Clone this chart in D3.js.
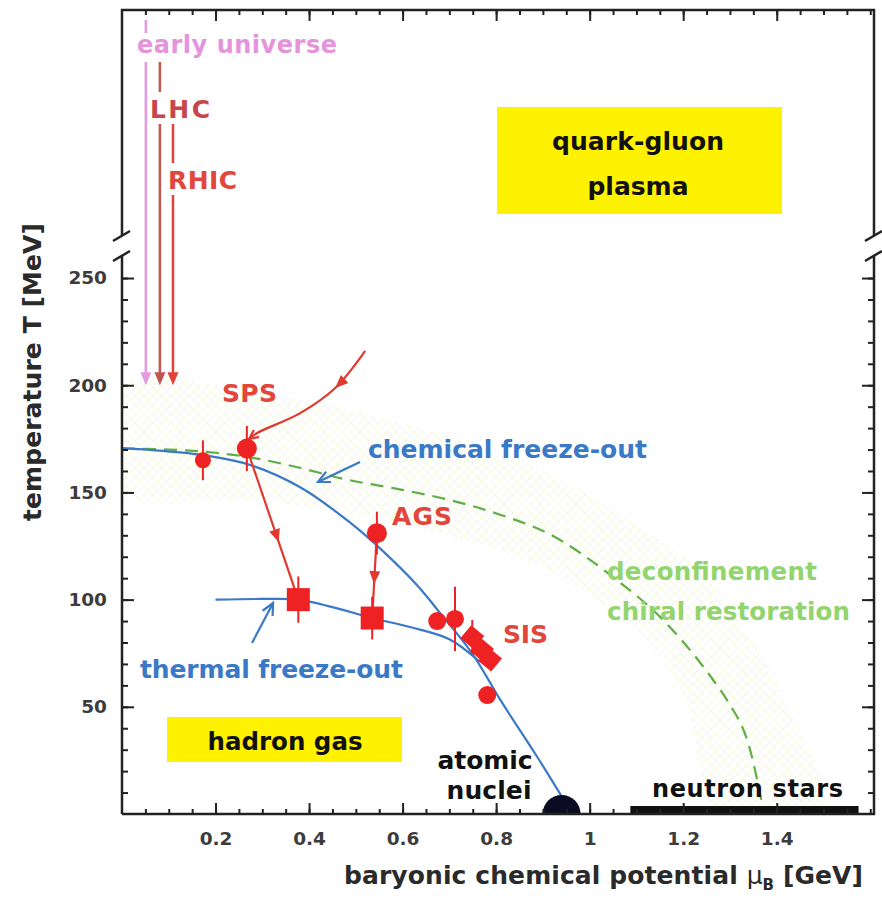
<!DOCTYPE html>
<html>
<head>
<meta charset="utf-8">
<script src="https://cdn.jsdelivr.net/npm/d3@7/dist/d3.min.js"></script>
<style>
  html, body { margin: 0; padding: 0; background: #fff; }
  svg text { font-family: "DejaVu Sans", "Liberation Sans", Arial, sans-serif; font-weight: bold; }
</style>
</head>
<body>
<svg id="chart" width="882" height="905"></svg>
<script>
// ---- data ----------------------------------------------------------------
// chemical freeze-out curve (mu_B in GeV, T in MeV)
const chemMu = [0, 0.06, 0.17, 0.274, 0.381, 0.488, 0.558, 0.631, 0.680, 0.75, 0.809, 0.888, 0.963];
const chemT  = [170.5, 169.8, 167.5, 162.8, 152.4, 135.9, 122.6, 106.7, 93.8, 74.5, 53.2, 26.6, 0];

// thermal freeze-out curve
const thermMu = [0.2, 0.3, 0.377, 0.45, 0.535, 0.62, 0.70, 0.765];
const thermT  = [100, 100.3, 100, 96.5, 91.4, 87, 81.5, 71];

// deconfinement / chiral restoration boundary (dashed)
const phaseMu = [0, 0.1, 0.2, 0.27, 0.38, 0.48, 0.58, 0.70, 0.81, 0.91, 1.05, 1.157, 1.264, 1.294, 1.343, 1.373];
const phaseT  = [170.5, 170, 168.5, 166.5, 161.5, 156, 152, 146.5, 139.5, 131, 110.5, 90.5, 62.5, 53, 30, 0];

// mixed-phase band around the boundary (faint hatching)
const bandMu  = [0, 0.3, 0.6, 0.9, 1.1, 1.25, 1.4, 1.5];
const bandHiT = [200, 196, 182, 160, 135, 110, 60, 0];
const bandLoMu = [1.28, 1.2, 1.1, 0.9, 0.6, 0.3, 0];
const bandLoT  = [0, 55, 85, 115, 135, 146, 150];

// freeze-out points: circles
const circMu  = [0.173, 0.267, 0.545, 0.674, 0.712, 0.781];
const circT   = [165, 170.5, 131, 90, 91, 55.5];
const circErr = [9.3, 10.5, 10, 0, 15, 0];
const circR   = [8, 10, 10, 9, 9, 9];
// freeze-out points: squares (thermal, SPS / AGS)
const sqMu  = [0.377, 0.535];
const sqT   = [100, 91.4];
const sqErr = [10.8, 10];
// SIS points drawn as diamonds
const diaMu  = [0.749, 0.770, 0.787];
const diaT   = [82.5, 76.5, 72];
const diaErr = [8, 0, 0];

// collision trajectories
const spsInMu = [0.52, 0.456, 0.381, 0.289, 0.272];
const spsInT  = [216, 198.7, 187, 177.7, 175];
const spsPathMu = [0.267, 0.377];
const spsPathT  = [170.5, 100];
const agsPathMu = [0.545, 0.535];
const agsPathT  = [131, 91.4];

// beam lines from above (early universe, LHC, RHIC) ending at T = 200 MeV
const beamNames = ["early universe", "LHC", "RHIC"];
const beamMu    = [0.051, 0.081, 0.109];
const beamEndT  = 200;

// objects at T = 0
const nucleiMu = 0.94;
const starsMu  = [1.087, 1.575];

// annotation arrows (from -> tip)
const chemArrow  = {mu: [0.509, 0.419], T: [164.2, 154.9]};
const thermArrow = {mu: [0.278, 0.323], T: [79.8, 98.4]};

// axes
const xMajor = [0.2, 0.4, 0.6, 0.8, 1.0, 1.2, 1.4];
const xTickLabels = ["0.2", "0.4", "0.6", "0.8", "1", "1.2", "1.4"];
const xMinor = d3.range(1, 33).map(i => i * 0.05);
const yMajor = [50, 100, 150, 200, 250];
const yTickLabels = ["50", "100", "150", "200", "250"];
const yMinor = d3.range(1, 26).map(i => i * 10);

// ---- layout --------------------------------------------------------------
const svg = d3.select("#chart");
const pL = 122, pR = 874, pT = 10, pB = 814;
const x = d3.scaleLinear().domain([0, 1.608]).range([pL, pR]);
const y = d3.scaleLinear().domain([0, 260]).range([pB, 256.6]);

const RED = "#ee2222", RED_LINE = "#e0392f", BLUE = "#3a79c6", GREEN = "#5fae46";

svg.append("rect").attr("width", 882).attr("height", 905).attr("fill", "#fff");

// hatch pattern
const defs = svg.append("defs");
const pat = defs.append("pattern").attr("id", "hatch").attr("patternUnits", "userSpaceOnUse")
  .attr("width", 9).attr("height", 9);
pat.append("path").attr("d", "M0,0 L9,9 M9,0 L0,9").attr("stroke", "#e9f2c4").attr("stroke-width", 1);
defs.append("clipPath").attr("id", "plotClip").append("rect")
  .attr("x", pL).attr("y", pT).attr("width", pR - pL).attr("height", pB - pT);

const plot = svg.append("g").attr("clip-path", "url(#plotClip)");

// faint band
const bandPts = bandMu.map((m, i) => [x(m), y(bandHiT[i])])
  .concat(bandLoMu.map((m, i) => [x(m), y(bandLoT[i])]));
plot.append("path").attr("d", d3.line().curve(d3.curveCatmullRomClosed)(bandPts))
  .attr("fill", "url(#hatch)").attr("opacity", 0.55);

// yellow boxes
plot.append("rect").attr("x", 497).attr("y", 107).attr("width", 285).attr("height", 107).attr("fill", "#fff200");
plot.append("rect").attr("x", 167).attr("y", 717).attr("width", 235).attr("height", 45).attr("fill", "#fff200");

// ---- axes ----------------------------------------------------------------
function styleAxis(g) {
  g.select(".domain").remove();
  g.selectAll(".tick line").attr("stroke", "#222").attr("stroke-width", 2);
  g.selectAll(".tick text").attr("fill", "#3c3c3c").attr("font-size", 18.5)
    .style("font-family", '"DejaVu Sans", Arial, sans-serif').style("font-weight", "bold");
}
// bottom (ticks inward)
svg.append("g").attr("transform", `translate(0,${pB})`)
  .call(d3.axisTop(x).tickValues(xMinor).tickSize(5).tickFormat("")).call(styleAxis);
svg.append("g").attr("transform", `translate(0,${pB})`)
  .call(d3.axisTop(x).tickValues(xMajor).tickSize(11).tickFormat("")).call(styleAxis);
svg.append("g").attr("transform", `translate(0,${pB})`)
  .call(d3.axisBottom(x).tickValues(xMajor).tickSize(0).tickPadding(18)
    .tickFormat((d, i) => xTickLabels[i])).call(styleAxis);
// top (ticks inward)
svg.append("g").attr("transform", `translate(0,${pT})`)
  .call(d3.axisBottom(x).tickValues(xMinor).tickSize(5).tickFormat("")).call(styleAxis);
svg.append("g").attr("transform", `translate(0,${pT})`)
  .call(d3.axisBottom(x).tickValues(xMajor).tickSize(11).tickFormat("")).call(styleAxis);
// left
svg.append("g").attr("transform", `translate(${pL},0)`)
  .call(d3.axisRight(y).tickValues(yMinor).tickSize(6).tickFormat("")).call(styleAxis);
svg.append("g").attr("transform", `translate(${pL},0)`)
  .call(d3.axisRight(y).tickValues(yMajor).tickSize(12).tickFormat("")).call(styleAxis);
svg.append("g").attr("transform", `translate(${pL},0)`)
  .call(d3.axisLeft(y).tickValues(yMajor).tickSize(0).tickPadding(15)
    .tickFormat((d, i) => yTickLabels[i])).call(styleAxis);
// right
svg.append("g").attr("transform", `translate(${pR},0)`)
  .call(d3.axisLeft(y).tickValues(yMinor).tickSize(6).tickFormat("")).call(styleAxis);
svg.append("g").attr("transform", `translate(${pR},0)`)
  .call(d3.axisLeft(y).tickValues(yMajor).tickSize(12).tickFormat("")).call(styleAxis);

// frame with axis breaks
const frame = svg.append("g").attr("fill", "none").attr("stroke", "#222").attr("stroke-width", 2.5);
frame.append("path").attr("d",
  `M${pL},${pB} L${pR},${pB} L${pR},256 M${pR},235 L${pR},${pT} L${pL},${pT} L${pL},235 M${pL},256 L${pL},${pB}`);
[pL, pR].forEach(ax => {
  frame.append("path").attr("d", `M${ax - 9},241 L${ax + 8},231`);
  frame.append("path").attr("d", `M${ax - 9},261 L${ax + 8},251`);
});

// ---- curves --------------------------------------------------------------
const line = d3.line().curve(d3.curveMonotoneX);
const cr = d3.line().curve(d3.curveCatmullRom.alpha(0.5));

plot.append("path").attr("d", line(phaseMu.map((m, i) => [x(m), y(phaseT[i])])))
  .attr("fill", "none").attr("stroke", GREEN).attr("stroke-width", 2.2).attr("stroke-dasharray", "13,8");
plot.append("path").attr("d", cr(chemMu.map((m, i) => [x(m), y(chemT[i])])))
  .attr("fill", "none").attr("stroke", BLUE).attr("stroke-width", 2.2);
plot.append("path").attr("d", cr(thermMu.map((m, i) => [x(m), y(thermT[i])])))
  .attr("fill", "none").attr("stroke", BLUE).attr("stroke-width", 2.2);

// ---- arrows --------------------------------------------------------------
function filledHead(g, px, py, ang, len, half, color) {
  const bx = px - len * Math.cos(ang), by = py - len * Math.sin(ang);
  const nx = -Math.sin(ang) * half, ny = Math.cos(ang) * half;
  g.append("path").attr("d", `M${px},${py} L${bx + nx},${by + ny} L${bx - nx},${by - ny} Z`).attr("fill", color);
}
function openHead(g, px, py, ang, len, color) {
  const a1 = ang + Math.PI - 0.45, a2 = ang + Math.PI + 0.45;
  g.append("path").attr("d",
    `M${px + len * Math.cos(a1)},${py + len * Math.sin(a1)} L${px},${py} L${px + len * Math.cos(a2)},${py + len * Math.sin(a2)}`)
    .attr("fill", "none").attr("stroke", color).attr("stroke-width", 2.2);
}
function straightArrow(mu, T, frac, color) {
  const x0 = x(mu[0]), y0 = y(T[0]), x1 = x(mu[1]), y1 = y(T[1]);
  plot.append("path").attr("d", `M${x0},${y0} L${x1},${y1}`).attr("stroke", color).attr("stroke-width", 2.2);
  const ang = Math.atan2(y1 - y0, x1 - x0);
  filledHead(plot, x0 + (x1 - x0) * frac, y0 + (y1 - y0) * frac, ang, 13, 5.5, color);
}
straightArrow(spsPathMu, spsPathT, 0.62, RED_LINE);
straightArrow(agsPathMu, agsPathT, 0.6, RED_LINE);

// incoming SPS trajectory
const spsPts = spsInMu.map((m, i) => [x(m), y(spsInT[i])]);
plot.append("path").attr("d", cr(spsPts)).attr("fill", "none").attr("stroke", RED_LINE).attr("stroke-width", 2.2);
{
  const a = spsPts[0], b = spsPts[1], c = spsPts[2];
  filledHead(plot, b[0], b[1], Math.atan2(c[1] - a[1], c[0] - a[0]), 13, 5.5, RED_LINE);
  const p = spsPts[spsPts.length - 2], q = spsPts[spsPts.length - 1];
  openHead(plot, q[0], q[1], Math.atan2(q[1] - p[1], q[0] - p[0]), 10, RED_LINE);
}

// blue pointer arrows
[chemArrow, thermArrow].forEach(a => {
  const x0 = x(a.mu[0]), y0 = y(a.T[0]), x1 = x(a.mu[1]), y1 = y(a.T[1]);
  plot.append("path").attr("d", `M${x0},${y0} L${x1},${y1}`).attr("stroke", BLUE).attr("stroke-width", 2.2);
  openHead(plot, x1, y1, Math.atan2(y1 - y0, x1 - x0), 13, BLUE);
});

// beam lines from the top panel, broken around their labels
const beamColors = ["#e49ade", "#bf5450", "#e2413a"];
const beamSegs = [[[20, 33], [62, null]], [[62, 92], [124, null]], [[124, 163], [195, null]]];
beamMu.forEach((m, i) => {
  const bx = x(m), yEnd = y(beamEndT);
  beamSegs[i].forEach(s => plot.append("line").attr("x1", bx).attr("x2", bx)
    .attr("y1", s[0]).attr("y2", s[1] === null ? yEnd - 8 : s[1])
    .attr("stroke", beamColors[i]).attr("stroke-width", 2.5));
  filledHead(plot, bx, yEnd, Math.PI / 2, 13, 5.5, beamColors[i]);
});

// ---- points --------------------------------------------------------------
function errBar(mu, T, e) {
  if (!e) return;
  plot.append("line").attr("x1", x(mu)).attr("x2", x(mu)).attr("y1", y(T - e)).attr("y2", y(T + e))
    .attr("stroke", RED).attr("stroke-width", 2);
}
circMu.forEach((m, i) => errBar(m, circT[i], circErr[i]));
sqMu.forEach((m, i) => errBar(m, sqT[i], sqErr[i]));
diaMu.forEach((m, i) => errBar(m, diaT[i], diaErr[i]));

circMu.forEach((m, i) => plot.append("circle").attr("cx", x(m)).attr("cy", y(circT[i])).attr("r", circR[i]).attr("fill", RED));
sqMu.forEach((m, i) => plot.append("rect").attr("x", x(m) - 11.5).attr("y", y(sqT[i]) - 11.5)
  .attr("width", 23).attr("height", 23).attr("fill", RED));
diaMu.forEach((m, i) => plot.append("rect").attr("x", -8.5).attr("y", -8.5).attr("width", 17).attr("height", 17)
  .attr("fill", RED).attr("transform", `translate(${x(m)},${y(diaT[i])}) rotate(40)`));

// atomic nuclei and neutron stars at T = 0
plot.append("circle").attr("cx", x(nucleiMu)).attr("cy", y(0)).attr("r", 19).attr("fill", "#0b0b24");
plot.append("rect").attr("x", x(starsMu[0])).attr("y", y(0) - 8).attr("width", x(starsMu[1]) - x(starsMu[0]))
  .attr("height", 8).attr("fill", "#111");

// ---- labels --------------------------------------------------------------
function label(str, x0, y0, size, color, width, anchor) {
  let xs = x0;
  if (anchor === "middle") xs = x0 - width / 2;
  const t = svg.append("text").attr("x", xs).attr("y", y0).attr("font-size", size).attr("fill", color).text(str);
  if (width) t.attr("textLength", width).attr("lengthAdjust", "spacing");
  return t;
}
label(beamNames[0], 137, 53, 24, "#e594dc", 200);
label(beamNames[1], 150, 118, 25, "#c8454b", 60);
label(beamNames[2], 168, 189, 25, "#e2473c", 69);
label("quark-gluon", 638, 150, 25, "#111", 172, "middle");
label("plasma", 638, 195, 25, "#111", 101, "middle");
label("SPS", 222, 402, 25, "#e2453a", 55);
label("AGS", 392, 525, 25, "#e2453a", 60);
label("SIS", 503, 643, 25, "#e2453a", 45);
label("chemical freeze-out", 368, 458, 25, BLUE, 279);
label("thermal freeze-out", 140, 678, 25, BLUE, 263);
label("deconfinement", 607, 580, 24.5, "#92d46e", 210);
label("chiral restoration", 607, 620, 24.5, "#92d46e", 243);
label("hadron gas", 285, 750, 24.5, "#111", 155, "middle");
label("atomic", 485, 769, 25, "#111", 95, "middle");
label("nuclei", 489, 799, 25, "#111", 85, "middle");
label("neutron stars", 652, 797, 24, "#111", 191);

// axis titles
const xt = svg.append("text").attr("x", 344).attr("y", 884).attr("font-size", 25).attr("fill", "#2a2a2a")
  .attr("textLength", 519).attr("lengthAdjust", "spacing");
xt.append("tspan").text("baryonic chemical potential ");
xt.append("tspan").text("μ").style("font-weight", "normal");
xt.append("tspan").text("B").attr("font-size", 15).attr("dy", 6);
xt.append("tspan").text(" [GeV]").attr("dy", -6);

svg.append("text").attr("transform", "translate(41,372) rotate(-90)").attr("text-anchor", "middle")
  .attr("font-size", 25).attr("fill", "#2a2a2a").attr("textLength", 298).attr("lengthAdjust", "spacing")
  .text("temperature T [MeV]");
</script>
</body>
</html>
